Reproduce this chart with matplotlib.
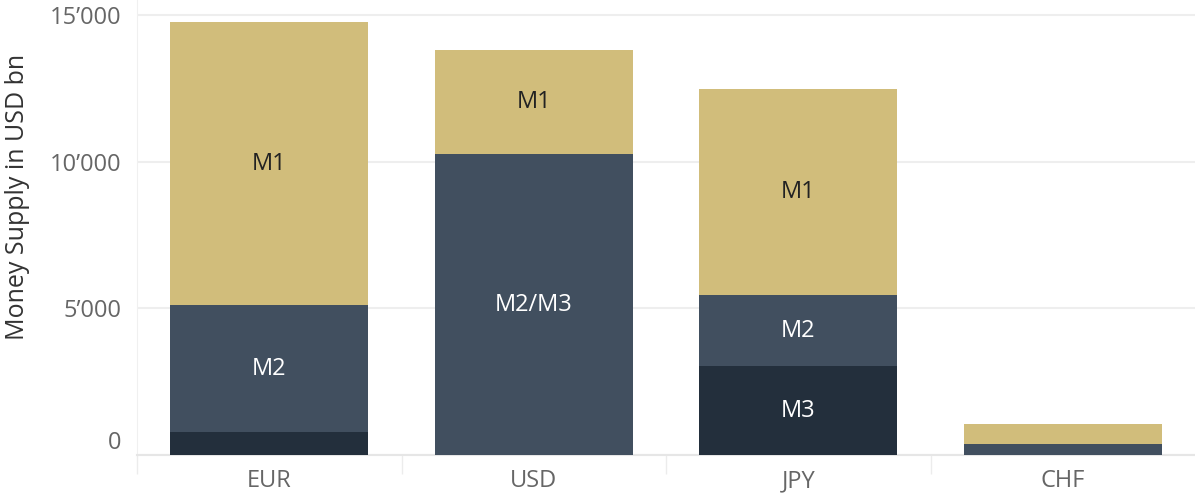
import matplotlib.pyplot as plt
import matplotlib.transforms as mtransforms
from matplotlib.ticker import FuncFormatter

plt.rcParams['font.family'] = ['Open Sans', 'DejaVu Sans']

# data (USD bn)
currencies = ['EUR', 'USD', 'JPY', 'CHF']
m3 = [770, 0, 3030, 0]
m2 = [4330, 10250, 2410, 360]
m1 = [9650, 3560, 7030, 680]

# labels shown inside segments ('' = none)
m3_lab = ['', '', 'M3', '']
m2_lab = ['M2', 'M2/M3', 'M2', '']
m1_lab = ['M1', 'M1', 'M1', '']

c_m1 = '#D1BD7B'
c_m2 = '#414F5F'
c_m3 = '#232F3C'

fig = plt.figure(figsize=(11.95, 4.96), dpi=100)
ax = fig.add_axes([137 / 1195, 41 / 496, 1058 / 1195, 455 / 496])

x = range(len(currencies))
w = 0.75
ax.bar(x, m3, w, color=c_m3, zorder=3)
ax.bar(x, m2, w, bottom=m3, color=c_m2, zorder=3)
bot1 = [a + b for a, b in zip(m3, m2)]
ax.bar(x, m1, w, bottom=bot1, color=c_m1, zorder=3)

fs_in = 17
for i in x:
    if m3_lab[i]:
        ax.text(i, m3[i] / 2, m3_lab[i], ha='center', va='center', color='white', fontsize=fs_in, zorder=4)
    if m2_lab[i]:
        ax.text(i, m3[i] + m2[i] / 2, m2_lab[i], ha='center', va='center', color='white', fontsize=fs_in, zorder=4)
    if m1_lab[i]:
        ax.text(i, bot1[i] + m1[i] / 2, m1_lab[i], ha='center', va='center', color='#222222', fontsize=fs_in, zorder=4)

ax.set_xlim(-0.5, 3.5)
ax.set_ylim(0, 15508)
ax.set_yticks([0, 5000, 10000, 15000])
ax.yaxis.set_major_formatter(FuncFormatter(lambda v, p: '0' if v == 0 else '{:,.0f}'.format(v).replace(',', '\u2019')))
ax.grid(axis='y', color='#eeeeee', linewidth=1.5, zorder=0)
ax.set_xticks(list(x))
ax.set_xticklabels(currencies)
ax.set_xticks([-0.5, 0.5, 1.5, 2.5], minor=True)
ax.tick_params(axis='x', which='major', length=0, pad=10, labelsize=17, labelcolor='#666666')
ax.tick_params(axis='x', which='minor', length=14, color='#ececec', width=1)
ax.tick_params(axis='y', length=0, pad=11, labelsize=17, labelcolor='#666666')

for s in ['top', 'right']:
    ax.spines[s].set_visible(False)
ax.spines['left'].set_color('#f0f0f0')
ax.spines['bottom'].set_color('#e6e6e6')
ax.spines['bottom'].set_linewidth(1.5)

# tableau-style: lift the 0 label
for lab in ax.get_yticklabels():
    if lab.get_text() == '0':
        lab.set_transform(lab.get_transform() + mtransforms.ScaledTranslation(0, 0.15, fig.dpi_scale_trans))

fig.text(18 / 1195, 1 - 197 / 496, 'Money Supply in USD bn', rotation=90, ha='center', va='center',
         fontsize=18, color='#333333')

plt.savefig('out.png', dpi=100)
